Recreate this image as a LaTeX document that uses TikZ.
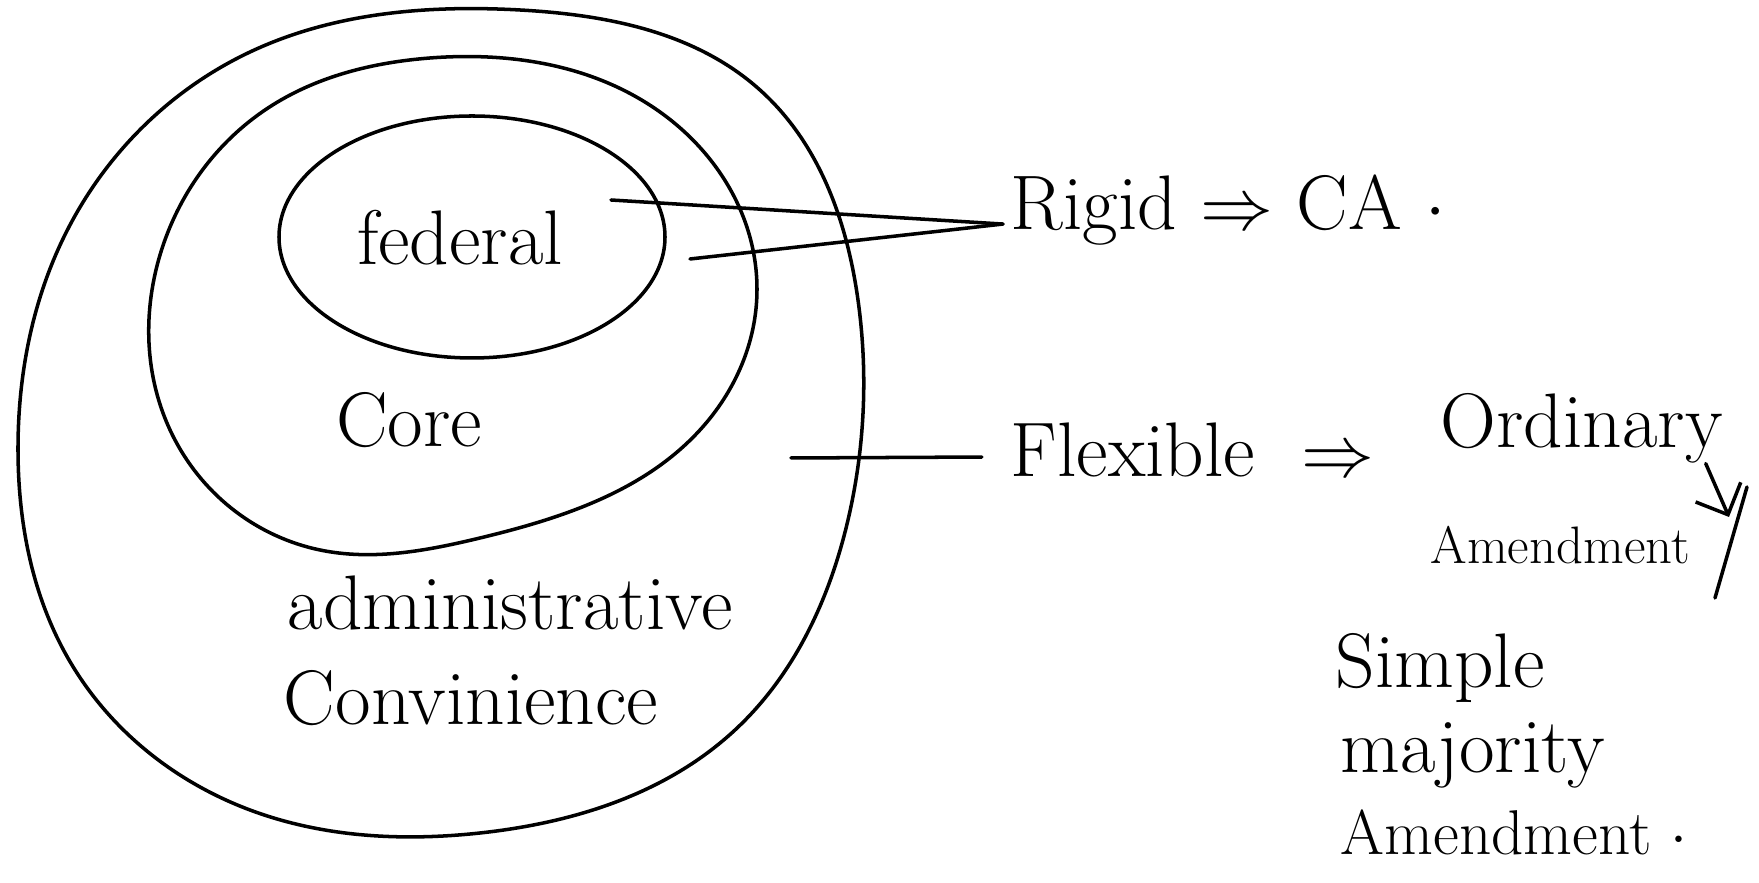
\documentclass[tikz,border=0pt]{standalone}
\usepackage{amsmath}
\usepackage{xcolor}
\usepackage{tikz}
\usetikzlibrary{positioning,arrows.meta,hobby}

\tikzset{
  pen/.style={line width=1pt, line join=round, line cap=round},
  hand/.style={inner sep=0pt, font=\fontsize{22}{26}\selectfont},
  smallhand/.style={inner sep=0pt, font=\fontsize{15}{18}\selectfont},
  midhand/.style={inner sep=0pt, font=\fontsize{18}{22}\selectfont},
}

\begin{document}
\begin{tikzpicture}[x=0.01cm,y=-0.01cm]
\useasboundingbox (0,0) rectangle (1759,883);

% the three loops
\draw[pen, use Hobby shortcut, closed=true] (520,10) .. (760,90) .. (858,300) .. (848,520) .. (735,730) .. (480,833) .. (250,810) .. (72,665) .. (18,450) .. (70,225) .. (250,52);
\draw[pen, use Hobby shortcut, closed=true] (430,58) .. (660,112) .. (757,290) .. (700,430) .. (480,538) .. (320,550) .. (175,440) .. (160,255) .. (268,108);
\draw[pen] (472,237) ellipse [x radius=193, y radius=121];

\node[hand](federal) at (460,238) {federal};
\node[hand](core) at (409,420) {Core};
\node[hand](admin) at (510,603) {administrative};
\node[hand](conv) at (471,698) {Convinience};

\node[hand, anchor=west](rigid) at (1010,210) {Rigid $\Rightarrow$ CA~$\cdot$};
\node[hand, anchor=west](flex) at (1010,450) {Flexible~~$\Rightarrow$};
\node[hand, anchor=west](ord) at (1440,428) {Ordinary};
\node[smallhand, anchor=west](amd1) at (1430,545) {Amendment};
\node[hand, anchor=west](simple) at (1335,668) {Simple};
\node[hand, anchor=west](major) at (1340,755) {majority};
\node[midhand, anchor=west](amd2) at (1340,832) {Amendment~$\cdot$};

\coordinate (fedA) at (611,200);
\coordinate (fedB) at (690,259);
\coordinate (flexA) at (791,458);
\coordinate (ordtip) at (1729,517);

\draw[pen] (fedA) -- ([xshift=-2pt, yshift=-4pt]rigid.west);
\draw[pen] (fedB) -- ([xshift=-2pt, yshift=-4pt]rigid.west);
\draw[pen] (flexA) -- ([xshift=-8pt, yshift=-2pt]flex.west);
\draw[pen, -{Straight Barb[length=7pt]}] ([xshift=-5pt]ord.south east) -- (ordtip);
\draw[pen] (1747,487) -- (1715,598);

\end{tikzpicture}
\end{document}
